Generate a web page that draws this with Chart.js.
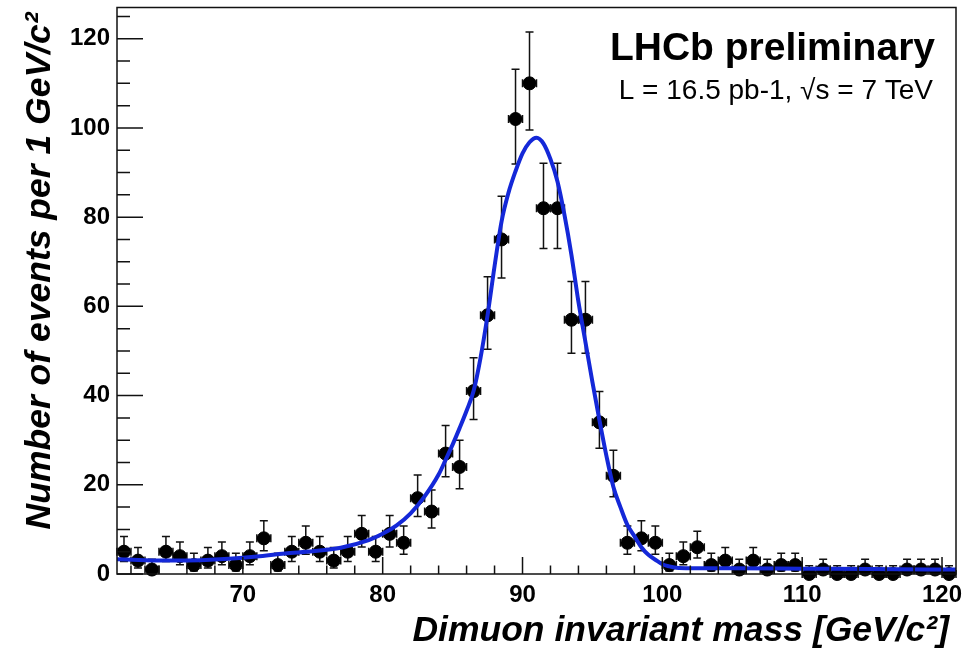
<!DOCTYPE html>
<html>
<head>
<meta charset="utf-8">
<title>Dimuon invariant mass</title>
<script src="https://cdn.jsdelivr.net/npm/chart.js@4.4.1/dist/chart.umd.min.js"></script>
<style>
  html, body { margin: 0; padding: 0; background: #fff; }
  #wrap { width: 972px; height: 651px; position: relative; }
</style>
</head>
<body>
<div id="wrap"><canvas id="massChart"></canvas></div>
<script>
// === Données : histogramme de la masse invariante des dimuons (bins de 1 GeV) ===
const massBins = [
  61.5, 62.5, 63.5, 64.5, 65.5, 66.5, 67.5, 68.5, 69.5, 70.5,
  71.5, 72.5, 73.5, 74.5, 75.5, 76.5, 77.5, 78.5, 79.5, 80.5,
  81.5, 82.5, 83.5, 84.5, 85.5, 86.5, 87.5, 88.5, 89.5, 90.5,
  91.5, 92.5, 93.5, 94.5, 95.5, 96.5, 97.5, 98.5, 99.5, 100.5,
  101.5, 102.5, 103.5, 104.5, 105.5, 106.5, 107.5, 108.5, 109.5, 110.5,
  111.5, 112.5, 113.5, 114.5, 115.5, 116.5, 117.5, 118.5, 119.5, 120.5
];
const counts = [
  5, 3, 1, 5, 4, 2, 3, 4, 2, 4,
  8, 2, 5, 7, 5, 3, 5, 9, 5, 9,
  7, 17, 14, 27, 24, 41, 58, 75, 102, 110,
  82, 82, 57, 57, 34, 22, 7, 8, 7, 2,
  4, 6, 2, 3, 1, 3, 1, 2, 2, 0,
  1, 0, 0, 1, 0, 0, 1, 1, 1, 0
];

// Courbe d'ajustement (signal + bruit de fond)
const fitMass = [
  61, 63, 65, 67, 69, 71, 73, 75, 77, 79,
  80, 81, 82, 83, 84, 84.5, 85, 85.5, 86, 86.5,
  87, 87.5, 88, 88.5, 89, 89.5, 90, 90.5, 91, 91.5,
  92, 92.5, 93, 93.5, 94, 94.5, 95, 95.5, 96, 96.5,
  97, 97.5, 98, 98.5, 99, 99.5, 100, 100.5, 101, 102,
  105, 110, 115, 121
];
const fitValues = [
  3.3, 3.1, 3.0, 3.1, 3.4, 3.9, 4.6, 5.1, 5.9, 7.6,
  9.0, 10.9, 13.6, 17.4, 22.3, 25.6, 29, 32.7, 36.6, 41,
  48.5, 58, 69, 79, 85.5, 90.3, 94.3, 96.8, 97.8, 96.5,
  93, 88, 80.5, 71.5, 61, 52, 43, 34.5, 26.5, 19.5,
  15, 11, 8.5, 6, 4.3, 3.2, 2.2, 1.7, 1.4, 1.3,
  1.3, 1.2, 1.1, 1.0
];

// Graduations des axes
const xTicks = [70, 80, 90, 100, 110, 120];
const yTicks = [0, 20, 40, 60, 80, 100, 120];
const xMinorStep = 2;
const yMinorStep = 5;

const xTitle = "Dimuon invariant mass [GeV/c\u00B2]";
const yTitle = "Number of events per 1 GeV/c\u00B2";

const FONT = "'Liberation Sans', Arial, Helvetica, sans-serif";
Chart.defaults.font.family = FONT;
Chart.defaults.color = "#000";

// Intervalles de Poisson asymétriques pour les barres d'erreur
function errUp(n) { return Math.sqrt(n + 0.75) + 1; }
function errDown(n) { return n > 0 ? Math.sqrt(n - 0.25) : 0; }

// === Plugin : cadre, graduations, barres d'erreur et textes ===
const rootFrame = {
  id: "rootFrame",
  beforeDatasetsDraw(chart) {
    const { ctx, scales: { x, y } } = chart;
    ctx.save();
    ctx.strokeStyle = "#111";
    ctx.lineWidth = 1.5;
    massBins.forEach((m, i) => {
      const n = counts[i];
      const px = x.getPixelForValue(m);
      const py = y.getPixelForValue(n);
      const top = y.getPixelForValue(n + errUp(n));
      const bot = y.getPixelForValue(n - errDown(n));
      const left = x.getPixelForValue(m - 0.5);
      const right = x.getPixelForValue(m + 0.5);
      ctx.beginPath();
      // barre verticale + chapeaux
      ctx.moveTo(px, top); ctx.lineTo(px, bot);
      ctx.moveTo(px - 4, top); ctx.lineTo(px + 4, top);
      ctx.moveTo(px - 4, bot); ctx.lineTo(px + 4, bot);
      // barre horizontale (largeur du bin)
      ctx.moveTo(left, py); ctx.lineTo(right, py);
      ctx.moveTo(left, py - 4); ctx.lineTo(left, py + 4);
      ctx.moveTo(right, py - 4); ctx.lineTo(right, py + 4);
      ctx.stroke();
    });
    ctx.restore();
  },
  afterDraw(chart) {
    const { ctx, chartArea: a, scales: { x, y } } = chart;
    ctx.save();
    ctx.strokeStyle = "#111";
    ctx.lineWidth = 1.5;
    ctx.strokeRect(a.left, a.top, a.right - a.left, a.bottom - a.top);

    ctx.beginPath();
    // graduations de l'axe Y (vers l'intérieur)
    for (let v = 0; v <= y.max; v += yMinorStep) {
      const py = y.getPixelForValue(v);
      const len = yTicks.includes(v) ? 26 : 13;
      ctx.moveTo(a.left, py); ctx.lineTo(a.left + len, py);
    }
    // graduations de l'axe X
    for (let v = 62; v <= x.max; v += xMinorStep) {
      const px = x.getPixelForValue(v);
      const len = xTicks.includes(v) ? 17 : 8.5;
      ctx.moveTo(px, a.bottom); ctx.lineTo(px, a.bottom - len);
    }
    ctx.stroke();

    ctx.fillStyle = "#000";
    ctx.textBaseline = "alphabetic";

    // titres des axes, alignés en bout d'axe
    ctx.font = "italic bold 35.5px " + FONT;
    ctx.textAlign = "right";
    ctx.fillText(xTitle, a.right - 7, 641);
    ctx.save();
    ctx.translate(50, a.top + 5);
    ctx.rotate(-Math.PI / 2);
    ctx.fillText(yTitle, 0, 0);
    ctx.restore();

    // textes en haut à droite
    ctx.font = "bold 39px " + FONT;
    ctx.fillText("LHCb preliminary", 935, 60);
    ctx.font = "28px " + FONT;
    ctx.fillText("L = 16.5 pb-1, \u221As = 7 TeV", 933, 99);
    ctx.restore();
  }
};

const ctx = document.getElementById("massChart").getContext("2d");
new Chart(ctx, {
  data: {
    datasets: [
      {
        type: "line",
        label: "Ajustement",
        data: fitMass.map((m, i) => ({ x: m, y: fitValues[i] })),
        borderColor: "#1428d8",
        borderWidth: 4,
        pointRadius: 0,
        cubicInterpolationMode: "monotone",
        fill: false,
        order: 1
      },
      {
        type: "scatter",
        label: "Données",
        data: massBins.map((m, i) => ({ x: m, y: counts[i] })),
        backgroundColor: "#000",
        borderColor: "#000",
        pointRadius: 6.5,
        pointHoverRadius: 6.5,
        clip: false,
        order: 2
      }
    ]
  },
  options: {
    responsive: true,
    maintainAspectRatio: false,
    animation: false,
    layout: { padding: { top: 7, right: 16, left: 0, bottom: 0 } },
    plugins: {
      legend: { display: false },
      tooltip: { enabled: false }
    },
    scales: {
      x: {
        type: "linear",
        position: "bottom",
        min: 61,
        max: 121,
        grid: { display: false, drawTicks: false },
        border: { display: false },
        afterBuildTicks: s => { s.ticks = xTicks.map(v => ({ value: v })); },
        afterFit: s => { s.height = 77; s.paddingLeft = 0; s.paddingRight = 0; },
        ticks: {
          autoSkip: false,
          maxRotation: 0,
          padding: 7,
          color: "#000",
          font: { size: 24, weight: "bold" }
        }
      },
      y: {
        type: "linear",
        min: 0,
        max: 127,
        grid: { display: false, drawTicks: false },
        border: { display: false },
        afterBuildTicks: s => { s.ticks = yTicks.map(v => ({ value: v })); },
        afterFit: s => { s.width = 117; s.paddingTop = 0; s.paddingBottom = 0; },
        ticks: {
          padding: 7,
          color: "#000",
          font: { size: 24, weight: "bold" }
        }
      }
    }
  },
  plugins: [rootFrame]
});
</script>
</body>
</html>
